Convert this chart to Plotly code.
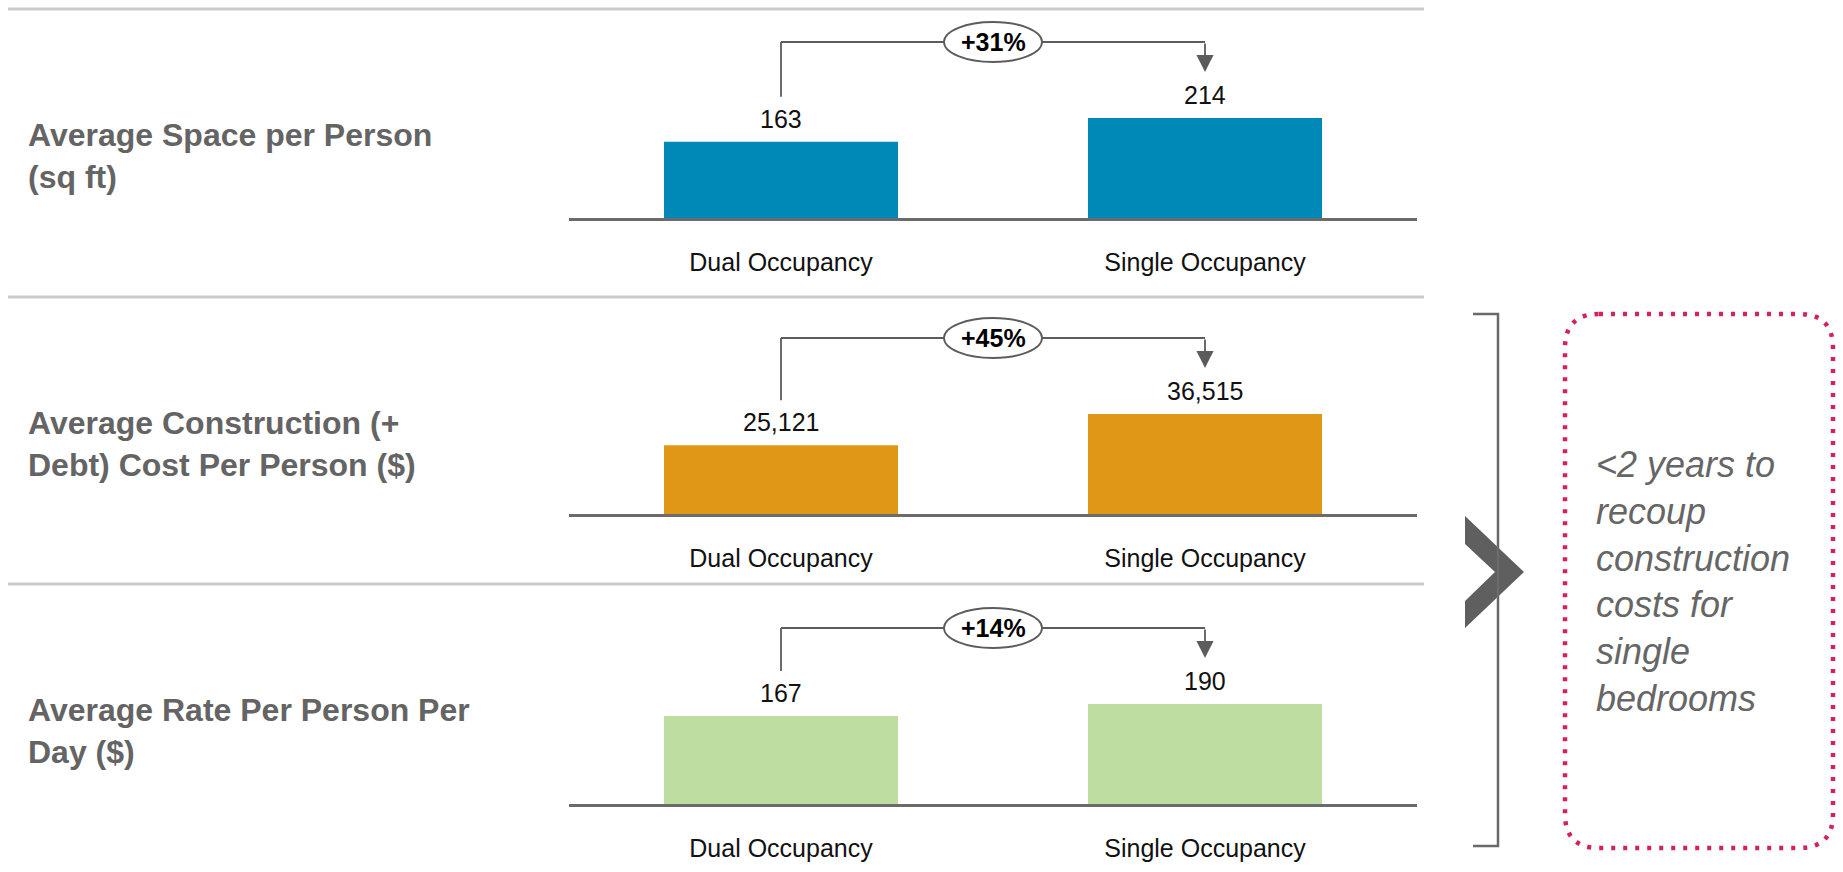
import plotly.graph_objects as go

# ---------------- data ----------------
categories = ["Dual Occupancy", "Single Occupancy"]
panel_titles = [
    "Average Space per Person<br>(sq ft)",
    "Average Construction (+<br>Debt) Cost Per Person ($)",
    "Average Rate Per Person Per<br>Day ($)",
]
space_per_person = [163, 214]
construction_cost = [25121, 36515]
rate_per_day = [167, 190]
bar_colors = ["#0089B6", "#E19716", "#BEDEA1"]
callout_lines = ["&lt;2 years to", "recoup", "construction", "costs for", "single", "bedrooms"]

panels = [space_per_person, construction_cost, rate_per_day]

# ---------------- geometry (pixels) ----------------
W, H = 1843, 872


def px(x):
    return x / W


def py(y):
    return 1 - y / H


FONT = "Liberation Sans, Arial, sans-serif"
baselines = [218, 514, 804]
title_centers = [156, 444, 731]
separators = [9, 297, 584]
PANEL_H = 200          # pixel height of each y domain
MAX_BAR_PX = 100       # pixel height of the tallest bar in each panel
x_dom = [px(569), px(1417)]
LINE_C = "#5c5c5c"

fig = go.Figure()
shapes = []
annotations = []

for i, (vals, color, title) in enumerate(zip(panels, bar_colors, panel_titles)):
    n = "" if i == 0 else str(i + 1)
    xa, ya = "x" + n, "y" + n
    base = baselines[i]
    ymax = max(vals)
    ytop = ymax * PANEL_H / MAX_BAR_PX
    unit = ytop / PANEL_H  # data units per pixel

    fig.add_trace(go.Bar(
        x=list(range(len(categories))), y=vals, marker=dict(color=color, line=dict(width=0)),
        xaxis=xa, yaxis=ya, showlegend=False, hoverinfo="skip",
    ))

    fig.layout["xaxis" + n] = dict(
        domain=x_dom, range=[-0.5, 1.5], anchor=ya,
        tickmode="array", tickvals=list(range(len(categories))), ticktext=categories,
        showline=True, linecolor="#6b6b6b", linewidth=2.5,
        showgrid=False, zeroline=False, ticks="",
        tickfont=dict(family=FONT, size=25, color="#111111"),
        ticklabelstandoff=20, fixedrange=True,
    )
    fig.layout["yaxis" + n] = dict(
        domain=[py(base), py(base - PANEL_H)], range=[0, ytop], anchor=xa,
        visible=False, showgrid=False, zeroline=False, fixedrange=True,
    )

    # value labels
    for j, v in enumerate(vals):
        annotations.append(dict(
            x=j, y=v, xref=xa, yref=ya, text=f"{v:,}", showarrow=False,
            yanchor="middle", yshift=23, font=dict(family=FONT, size=25, color="#111111"),
        ))

    # bracket connector
    y_h = ymax * 1.76
    y_l = vals[0] + 45 * unit
    y_t = ymax * 1.46
    shapes.append(dict(type="line", xref=xa, yref=ya, x0=0, x1=0, y0=y_l, y1=y_h,
                       line=dict(color=LINE_C, width=1.8)))
    shapes.append(dict(type="line", xref=xa, yref=ya, x0=0, x1=1, y0=y_h, y1=y_h,
                       line=dict(color=LINE_C, width=1.8)))
    shapes.append(dict(type="circle", xref=xa, yref=ya,
                       xsizemode="pixel", xanchor=0.5, x0=-49, x1=49,
                       ysizemode="pixel", yanchor=y_h, y0=-20, y1=20,
                       fillcolor="white", line=dict(color=LINE_C, width=1.8)))
    annotations.append(dict(
        x=1, y=y_t, xref=xa, yref=ya, ax=1, ay=y_h, axref=xa, ayref=ya,
        text="", showarrow=True, arrowhead=2, arrowsize=1.9, arrowwidth=1.8,
        arrowcolor=LINE_C, standoff=0, startstandoff=0,
    ))
    pct = round((vals[1] / vals[0] - 1) * 100)
    annotations.append(dict(
        x=0.5, y=y_h, xref=xa, yref=ya, text=f"+{pct}%", showarrow=False,
        font=dict(family=FONT, size=25, color="#000000", weight="bold"),
        xanchor="center", yanchor="middle",
    ))

    # panel title
    annotations.append(dict(
        x=px(26), y=py(title_centers[i]), xref="paper", yref="paper",
        text=title, showarrow=False, xanchor="left", yanchor="middle", align="left",
        font=dict(family=FONT, size=32, color="#646464", weight="bold"),
    ))

    # separator line
    shapes.append(dict(type="line", xref="paper", yref="paper",
                       x0=px(8), x1=px(1424), y0=py(separators[i]), y1=py(separators[i]),
                       line=dict(color="#cbcbcb", width=3)))

# chevron
chev = [(1465, 516), (1524, 572), (1465, 628), (1465, 601), (1495, 572), (1465, 544)]
path = "M " + " L ".join(f"{px(a)},{py(b)}" for a, b in chev) + " Z"
shapes.append(dict(type="path", xref="paper", yref="paper", path=path,
                   fillcolor="#5f5f5f", line=dict(width=0)))

# right bracket
br = [(1473, 314), (1498, 314), (1498, 846), (1473, 846)]
shapes.append(dict(type="path", xref="paper", yref="paper",
                   path="M " + " L ".join(f"{px(a)},{py(b)}" for a, b in br),
                   line=dict(color="#6a6a6a", width=2.5)))

# dotted rounded box
x0, x1, y0, y1, r = 1565, 1833, 314, 848, 34
P = lambda a, b: f"{px(a)},{py(b)}"
box = (f"M {P(x0 + r, y0)} L {P(x1 - r, y0)} Q {P(x1, y0)} {P(x1, y0 + r)} "
       f"L {P(x1, y1 - r)} Q {P(x1, y1)} {P(x1 - r, y1)} "
       f"L {P(x0 + r, y1)} Q {P(x0, y1)} {P(x0, y1 - r)} "
       f"L {P(x0, y0 + r)} Q {P(x0, y0)} {P(x0 + r, y0)} Z")
shapes.append(dict(type="path", xref="paper", yref="paper", path=box,
                   line=dict(color="#D4215E", width=4.5, dash="4px,8px")))

annotations.append(dict(
    x=px(1594), y=py(581), xref="paper", yref="paper",
    text="<br>".join(callout_lines), showarrow=False,
    xanchor="left", yanchor="middle", align="left",
    font=dict(family=FONT, size=36, color="#666666", style="italic"),
))

fig.update_layout(
    width=W, height=H, autosize=False,
    margin=dict(l=0, r=0, t=0, b=0),
    paper_bgcolor="white", plot_bgcolor="white",
    bargap=0.448, font=dict(family=FONT),
    shapes=shapes, annotations=annotations,
)

fig.write_html("out.html", config={"displayModeBar": False},
               post_script="document.body.style.margin='0';")
